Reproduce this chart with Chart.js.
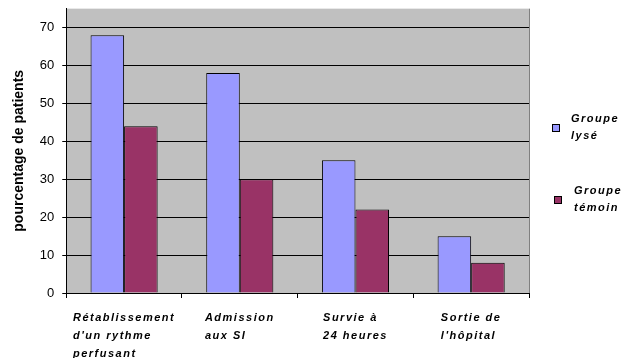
<!DOCTYPE html>
<html>
<head>
<meta charset="utf-8">
<script src="https://cdn.jsdelivr.net/npm/chart.js@4/dist/chart.umd.min.js"></script>
<style>
    body { margin: 0; background: #fff; }
    .chartContainer { position: relative; width: 624px; height: 358px; }
</style>
</head>
<body>
<div class="chartContainer">
    <canvas id="chart"></canvas>
</div>
<script>
const categories = [
    ["Rétablissement", "d'un rythme", "perfusant"],
    ["Admission", "aux SI"],
    ["Survie à", "24 heures"],
    ["Sortie de", "l'hôpital"]
];
const seriesNames = [["Groupe", "lysé"], ["Groupe", "témoin"]];
const lyseValues = [68, 58, 35, 15];
const temoinValues = [44, 30, 22, 8];
const yTicks = [0, 10, 20, 30, 40, 50, 60, 70];

const labelFont = "italic bold 11px 'Liberation Sans', Arial, sans-serif";

// gray plot background
const plotBackground = {
    id: 'plotBackground',
    beforeDraw(chart) {
        const {ctx, chartArea} = chart;
        ctx.save();
        ctx.fillStyle = '#C0C0C0';
        ctx.fillRect(chartArea.left, chartArea.top, chartArea.right - chartArea.left, chartArea.bottom - chartArea.top);
        ctx.strokeStyle = '#808080';
        ctx.lineWidth = 1;
        ctx.beginPath();
        ctx.moveTo(chartArea.right + 0.5, chartArea.top);
        ctx.lineTo(chartArea.right + 0.5, chartArea.bottom);
        ctx.stroke();
        ctx.restore();
    }
};

// multi-line category labels, lines left aligned inside a centered block
const categoryLabels = {
    id: 'categoryLabels',
    afterDraw(chart) {
        const {ctx} = chart;
        const xScale = chart.scales.x;
        ctx.save();
        ctx.font = labelFont;
        ctx.letterSpacing = '1.5px';
        ctx.fillStyle = '#000';
        ctx.textAlign = 'left';
        ctx.textBaseline = 'middle';
        categories.forEach((lines, i) => {
            const center = xScale.getPixelForValue(i);
            let maxW = 0;
            lines.forEach(l => { maxW = Math.max(maxW, ctx.measureText(l).width); });
            lines.forEach((l, j) => {
                ctx.fillText(l, center - maxW / 2, chart.chartArea.bottom + 25 + j * 18);
            });
        });
        ctx.restore();
    }
};

// legend with two-line names at the right
const sideLegend = {
    id: 'sideLegend',
    afterDraw(chart) {
        const {ctx} = chart;
        ctx.save();
        ctx.font = labelFont;
        ctx.letterSpacing = '1.5px';
        ctx.textBaseline = 'middle';
        ctx.textAlign = 'left';
        chart.data.datasets.forEach((ds, i) => {
            const y = 128 + i * 72;
            const bx = 552 + i * 2;
            ctx.fillStyle = ds.backgroundColor;
            ctx.fillRect(bx, y - 4, 8, 8);
            ctx.strokeStyle = '#000';
            ctx.lineWidth = 1;
            ctx.strokeRect(bx + 0.5, y - 3.5, 7, 7);
            ctx.fillStyle = '#000';
            seriesNames[i].forEach((l, j) => {
                ctx.fillText(l, 571 + i * 3, y - 9 + j * 17);
            });
        });
        ctx.restore();
    }
};

const data = {
    labels: categories,
    datasets: [
        {
            label: seriesNames[0].join(' '),
            data: lyseValues,
            backgroundColor: '#9999FF',
            borderColor: '#000',
            borderWidth: 1,
        },
        {
            label: seriesNames[1].join(' '),
            data: temoinValues,
            backgroundColor: '#993366',
            borderColor: '#000',
            borderWidth: 1,
        },
    ],
};

const options = {
    responsive: true,
    maintainAspectRatio: false,
    animation: false,
    layout: {padding: {top: 0, right: 95, bottom: 60, left: 11}},
    plugins: {legend: {display: false}, tooltip: {enabled: false}},
    datasets: {bar: {categoryPercentage: 0.58, barPercentage: 1}},
    scales: {
        x: {
            ticks: {display: false},
            grid: {
                offset: true,
                drawOnChartArea: false,
                drawTicks: true,
                tickLength: 5,
                color: '#000',
            },
            border: {color: '#000', width: 1},
        },
        y: {
            min: 0,
            max: 75,
            afterBuildTicks: (scale) => {
                scale.ticks = yTicks.map(v => ({value: v}));
            },
            ticks: {
                color: '#000',
                padding: 8,
                font: {family: "'Liberation Sans', Arial, sans-serif", size: 13, lineHeight: 0.1},
            },
            grid: {
                color: (c) => (c.tick && yTicks.includes(c.tick.value) ? '#000' : 'rgba(0,0,0,0)'),
                tickLength: 4,
                lineWidth: 1,
            },
            border: {color: '#000', width: 1},
            title: {
                display: true,
                text: 'pourcentage de patients',
                color: '#000',
                font: {family: "'Liberation Sans', Arial, sans-serif", size: 14, weight: 'bold'},
                padding: {top: 0, bottom: 4},
            },
        },
    },
};

new Chart(document.getElementById('chart').getContext('2d'), {
    type: 'bar',
    data: data,
    options: options,
    plugins: [plotBackground, categoryLabels, sideLegend],
});
</script>
</body>
</html>
